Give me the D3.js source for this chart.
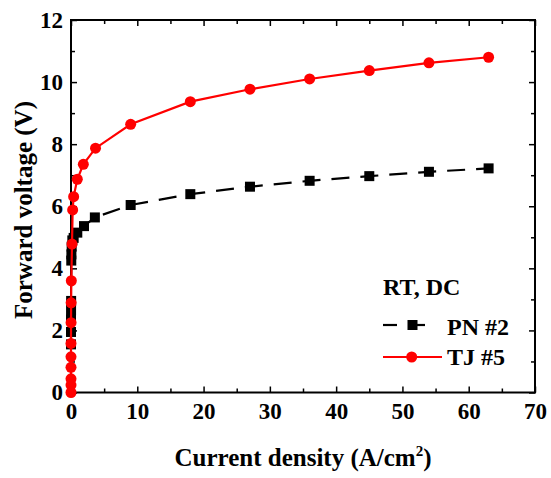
<!DOCTYPE html>
<html>
<head>
<meta charset="utf-8">
<script src="https://cdn.jsdelivr.net/npm/d3@7"></script>
<style>
  body { margin: 0; background: #fff; }
  svg text { font-family: "Liberation Serif", "Times New Roman", serif; font-weight: bold; }
</style>
</head>
<body>
<div class="chart"></div>
<script>
const width = 551;
const height = 478;
const margin = { top: 20, right: 16, bottom: 85.5, left: 71 };

// PN #2 (black squares, dashed)
const pnCurrent = [0, 0, 0, 0.01, 0.02, 0.04, 0.06, 0.1, 0.2, 0.4, 0.95, 1.96, 3.6, 9, 18, 27, 36, 45, 54, 63];
const pnVoltage = [1.55, 1.95, 2.35, 2.65, 2.95, 4.25, 4.45, 4.7, 4.9, 4.98, 5.15, 5.36, 5.64, 6.04, 6.39, 6.63, 6.82, 6.97, 7.11, 7.22];

// TJ #5 (red circles, solid)
const tjCurrent = [0, 0, 0, 0, 0, 0, 0.01, 0.02, 0.05, 0.15, 0.25, 0.4, 0.95, 1.86, 3.7, 9, 18, 27, 36, 45, 54, 63];
const tjVoltage = [0, 0.24, 0.44, 0.81, 1.15, 1.58, 2.25, 2.89, 3.6, 4.78, 5.88, 6.31, 6.87, 7.35, 7.87, 8.64, 9.37, 9.77, 10.1, 10.37, 10.62, 10.8];

const xTicks = [0, 10, 20, 30, 40, 50, 60, 70];
const yTicks = [0, 2, 4, 6, 8, 10, 12];
const legendTitle = "RT, DC";
const seriesNames = ["PN #2", "TJ #5"];

const svg = d3.select(".chart").append("svg")
  .attr("width", width)
  .attr("height", height);

const x = d3.scaleLinear().domain([0, 70]).range([margin.left, width - margin.right]);
const y = d3.scaleLinear().domain([0, 12]).range([height - margin.bottom, margin.top]);

const x0 = x(0), x1 = x(70), y0 = y(0), y1 = y(12);

// ticks (inward, all four sides)
const xMinor = d3.range(5, 70, 10);
const yMinor = d3.range(1, 12, 2);

const bottomAxis = d3.axisBottom(x).tickValues(xTicks).tickSizeInner(-6).tickSizeOuter(0).tickPadding(10);
const bottomMinor = d3.axisBottom(x).tickValues(xMinor).tickSizeInner(-4).tickSizeOuter(0).tickFormat("");
const topAxis = d3.axisTop(x).tickValues(xTicks).tickSizeInner(-6).tickSizeOuter(0).tickFormat("");
const topMinor = d3.axisTop(x).tickValues(xMinor).tickSizeInner(-4).tickSizeOuter(0).tickFormat("");
const leftAxis = d3.axisLeft(y).tickValues(yTicks).tickSizeInner(-6).tickSizeOuter(0).tickPadding(8);
const leftMinor = d3.axisLeft(y).tickValues(yMinor).tickSizeInner(-4).tickSizeOuter(0).tickFormat("");
const rightAxis = d3.axisRight(y).tickValues(yTicks).tickSizeInner(-6).tickSizeOuter(0).tickFormat("");
const rightMinor = d3.axisRight(y).tickValues(yMinor).tickSizeInner(-4).tickSizeOuter(0).tickFormat("");

function styleAxis(g) {
  g.select(".domain").remove();
  g.selectAll(".tick line").attr("stroke", "#000").attr("stroke-width", 1.5);
  g.selectAll(".tick text").attr("fill", "#000").style("font-size", "23px");
}

svg.append("g").attr("transform", `translate(0,${y0})`).call(bottomAxis).call(styleAxis);
svg.append("g").attr("transform", `translate(0,${y0})`).call(bottomMinor).call(styleAxis);
svg.append("g").attr("transform", `translate(0,${y1})`).call(topAxis).call(styleAxis);
svg.append("g").attr("transform", `translate(0,${y1})`).call(topMinor).call(styleAxis);
svg.append("g").attr("transform", `translate(${x0},0)`).call(leftAxis).call(styleAxis);
svg.append("g").attr("transform", `translate(${x0},0)`).call(leftMinor).call(styleAxis);
svg.append("g").attr("transform", `translate(${x1},0)`).call(rightAxis).call(styleAxis);
svg.append("g").attr("transform", `translate(${x1},0)`).call(rightMinor).call(styleAxis);

// frame
svg.append("rect")
  .attr("x", x0).attr("y", y1)
  .attr("width", x1 - x0).attr("height", y0 - y1)
  .attr("fill", "none").attr("stroke", "#000").attr("stroke-width", 2);

// data
const pn = pnCurrent.map((c, i) => [c, pnVoltage[i]]);
const tj = tjCurrent.map((c, i) => [c, tjVoltage[i]]);

const line = d3.line().x(d => x(d[0])).y(d => y(d[1]));

svg.append("path").datum(pn)
  .attr("d", line)
  .attr("fill", "none").attr("stroke", "#000").attr("stroke-width", 2.2)
  .attr("stroke-dasharray", "18,11");

svg.append("g").selectAll("rect").data(pn).enter().append("rect")
  .attr("x", d => x(d[0]) - 5).attr("y", d => y(d[1]) - 5)
  .attr("width", 10).attr("height", 10)
  .attr("fill", "#000");

svg.append("path").datum(tj)
  .attr("d", line)
  .attr("fill", "none").attr("stroke", "#ff0000").attr("stroke-width", 2.2);

svg.append("g").selectAll("circle").data(tj).enter().append("circle")
  .attr("cx", d => x(d[0])).attr("cy", d => y(d[1]))
  .attr("r", 5.5)
  .attr("fill", "#ff0000");

// axis titles
svg.append("text")
  .attr("x", (x0 + x1) / 2).attr("y", 466)
  .attr("text-anchor", "middle")
  .style("font-size", "25px")
  .html('Current density (A/cm<tspan dy="-10" font-size="15px">2</tspan><tspan dy="10">)</tspan>');

svg.append("text")
  .attr("transform", `translate(32,210) rotate(-90)`)
  .attr("text-anchor", "middle")
  .style("font-size", "25px")
  .text("Forward voltage (V)");

// legend
const lg = svg.append("g");
lg.append("text").attr("x", 383).attr("y", 295).style("font-size", "24px").text(legendTitle);

lg.append("line").attr("x1", 383).attr("x2", 397).attr("y1", 325).attr("y2", 325)
  .attr("stroke", "#000").attr("stroke-width", 2.2);
lg.append("rect").attr("x", 407.5).attr("y", 320).attr("width", 10).attr("height", 10).attr("fill", "#000");
lg.append("line").attr("x1", 417).attr("x2", 425).attr("y1", 325).attr("y2", 325)
  .attr("stroke", "#000").attr("stroke-width", 2.2);
lg.append("text").attr("x", 447).attr("y", 335).style("font-size", "24px").text(seriesNames[0]);

lg.append("line").attr("x1", 383).attr("x2", 442).attr("y1", 357).attr("y2", 357)
  .attr("stroke", "#ff0000").attr("stroke-width", 2.2);
lg.append("circle").attr("cx", 411.7).attr("cy", 357).attr("r", 5.5).attr("fill", "#ff0000");
lg.append("text").attr("x", 447).attr("y", 365).style("font-size", "24px").text(seriesNames[1]);
</script>
</body>
</html>
